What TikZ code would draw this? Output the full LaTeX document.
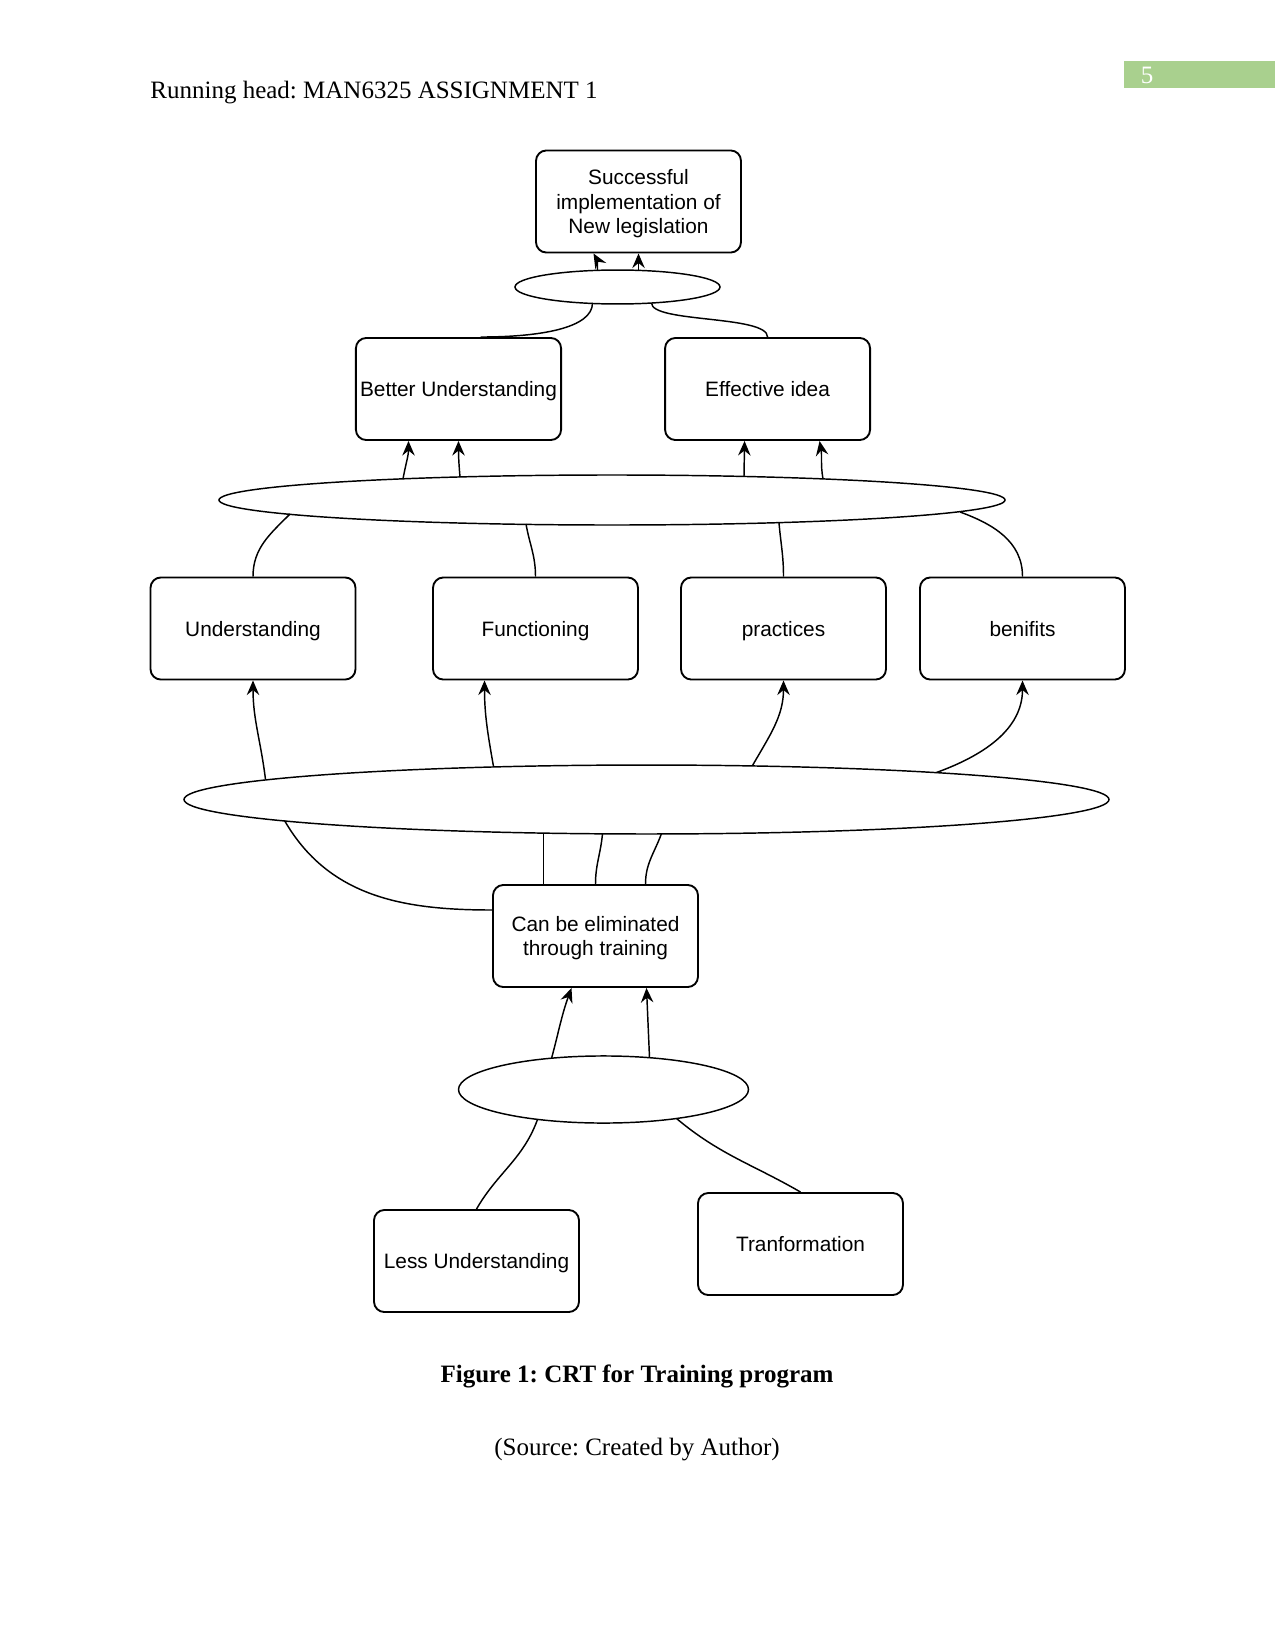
\documentclass[tikz,border=0pt]{standalone}
\usepackage{fontspec}
\setmainfont{Liberation Serif}
\newfontfamily\boxfont{Liberation Sans}
\usepackage{tikz}
\usetikzlibrary{shapes.geometric,arrows.meta,positioning,calc}
\definecolor{pagegreen}{HTML}{A9D08E}
\frenchspacing

\begin{document}
\begin{tikzpicture}[
    x=0.48pt, y=-0.48pt,
    % --- STYLES ---
    factor/.style={
        rectangle, rounded corners=5pt,
        draw=black, line width=0.9pt, fill=white,
        minimum width=98.4pt,
        minimum height=49pt,
        align=center, font=\boxfont\fontsize{10}{11.6}\selectfont,
        inner sep=2pt, text depth=0pt
    },
    junction/.style={ellipse, draw=black, line width=0.7pt, fill=white, inner sep=0pt},
    link/.style={line width=0.7pt},
    cause/.style={-{Stealth[length=7pt,width=6pt,inset=2.4pt]}, line width=0.7pt},
    pagetext/.style={font=\fontsize{12}{14}\selectfont}
]

% ===== 1. PAGE & HEADER =====
\useasboundingbox (0,0) rectangle (1275,1651);
\fill[pagegreen] (1124,61) rectangle (1275,88);
\node[pagetext, text=white] (pagenum) at (1147,75) {5};
\node[pagetext, anchor=west, inner sep=0pt] (head) at (150,93) {Running head: MAN6325 ASSIGNMENT 1};

% ===== 2. NODES =====
\def\yRow{628.5}

\node[factor] (goal) at (638.5,201.5) {Successful\\ implementation of\\ New legislation};
\node[junction, minimum width=98.4pt, minimum height=16.3pt] (andTop) at (617.5,287) {};

\node[factor] (better) at (458.5,389) {Better Understanding};
\node[factor, right=49pt of better] (idea) {Effective idea};
\node[junction, minimum width=377.3pt, minimum height=24pt] (andMid) at (612,500) {};

% Hang nguyen nhan
\node[factor] (under) at (253,\yRow) {Understanding};
\node[factor] (func) at (535.5,\yRow) {Functioning};
\node[factor] (prac) at (783.5,\yRow) {practices};
\node[factor] (bene) at (1022.5,\yRow) {benifits};
\node[junction, minimum width=444pt, minimum height=33.1pt] (andBig) at (646.5,799.5) {};

\node[factor] (elim) at (595.5,936) {Can be eliminated\\ through training};
\node[junction, minimum width=139.2pt, minimum height=32.2pt] (andLow) at (603.5,1089.5) {};

\node[factor] (less) at (476.5,1261) {Less Understanding};
\node[factor] (trans) at (800.5,1244) {Tranformation};

% Chu thich
\node[pagetext, font=\bfseries\fontsize{12}{14}\selectfont] (caption) at (637,1376) {Figure 1: CRT for Training program};
\node[pagetext] (source) at (637,1450) {(Source: Created by Author)};

% ===== 3. CONNECTIONS =====

% -- Len muc tieu --
\draw[cause] ($(andTop)+(-20,-17)$) to[out=90,in=-60] ($(goal.south)+(-45,0)$);
\draw[cause] ($(andTop)+(21,-17)$) -- (goal.south);
\draw[link] ($(andTop)+(-25,16)$) .. controls +(0,25) and +(60,0) .. ($(better.north)+(22,0)$);
\draw[link] ($(andTop)+(34,16)$) .. controls +(0,20) and +(0,-22) .. (idea.north);

% -- Tang giua --
\draw[cause] ($(andMid)+(-209,-21)$) to[out=80,in=-90] ($(better.south)+(-50,0)$);
\draw[cause] ($(andMid)+(-152,-23)$) to[out=95,in=-90] (better.south);
\draw[cause] ($(andMid)+(132,-24)$) -- ($(idea.south)+(-23,0)$);
\draw[cause] ($(andMid)+(211,-21)$) to[out=100,in=-80] ($(idea.south)+(52,0)$);

\draw[link] ($(andMid)+(-322,14)$) to[out=-135,in=90] (under.north);
\draw[link] ($(andMid)+(-86,24)$) to[out=-80,in=90] (func.north);
\draw[link] ($(andMid)+(167,23)$) to[out=-85,in=90] (prac.north);
\draw[link] ($(andMid)+(348,12)$) to[out=-20,in=90] (bene.north);

% -- Tang duoi --
\draw[cause] ($(andBig)+(-381,-20)$) to[out=97,in=-90] (under.south);
\draw[cause] ($(andBig)+(-153,-33)$) to[out=100,in=-90] ($(func.south)+(-51,0)$);
\draw[cause] ($(andBig)+(106,-34)$) to[out=60,in=-90] (prac.south);
\draw[cause] ($(andBig)+(290,-27)$) to[out=20,in=-90] (bene.south);

\draw[link] ($(andBig)+(-362,21)$) to[out=-60,in=180] ($(elim.west)+(0,-26)$);
\draw[link] ($(andBig)+(-103,34)$) -- ($(elim.north)+(-52,0)$);
\draw[link] ($(andBig)+(-44,34)$) to[out=-95,in=90] (elim.north);
\draw[link] ($(andBig)+(15,34)$) to[out=-110,in=90] ($(elim.north)+(50,0)$);

% -- Goc re --
\draw[cause] ($(andLow)+(-52,-31)$) to[out=75,in=-110] ($(elim.south)+(-24,0)$);
\draw[cause] ($(andLow)+(46,-32)$) -- ($(elim.south)+(51,0)$);
\draw[link] ($(andLow)+(-66,30)$) to[out=-110,in=60] (less.north);
\draw[link] ($(andLow)+(73,29)$) to[out=-40,in=150] (trans.north);

\end{tikzpicture}
\end{document}
